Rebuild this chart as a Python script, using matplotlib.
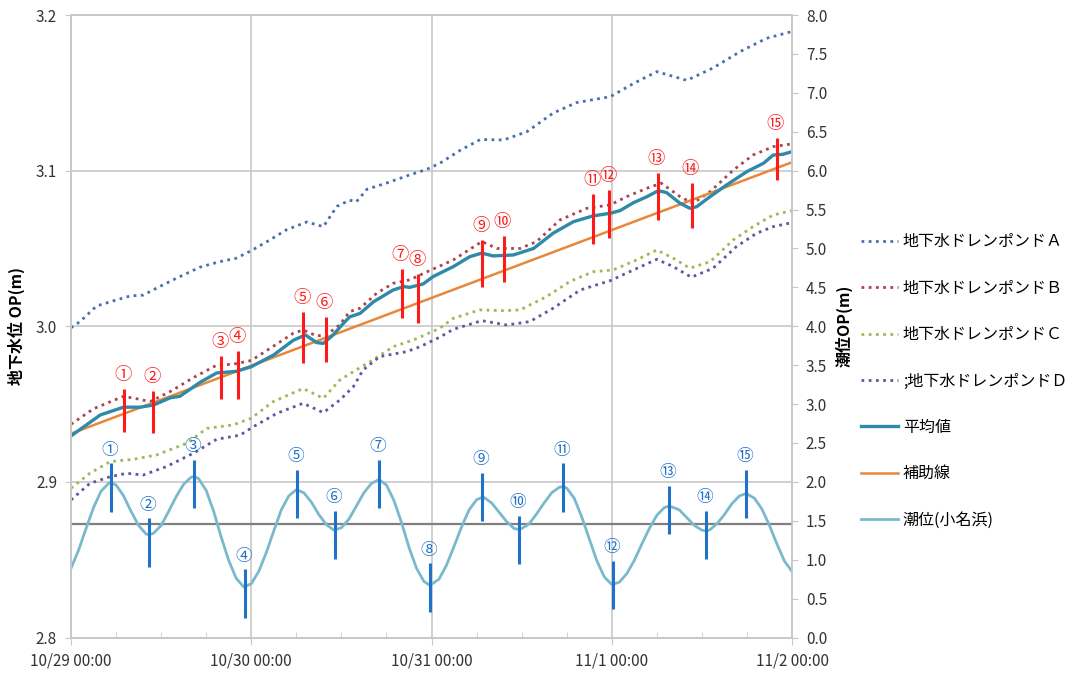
import matplotlib
matplotlib.use('Agg')
import matplotlib.pyplot as plt
import matplotlib.dates as mdates
from matplotlib.ticker import MultipleLocator, FuncFormatter
import numpy as np
import pandas as pd

plt.rcParams['font.family'] = ['Noto Sans CJK JP', 'DejaVu Sans']

# ---------------- data (hours since 10/29 00:00) ----------------
A_t = [0, 1.2, 3.4, 6.1, 7.9, 9.6, 11.8, 14.1, 17.2, 19.8, 22, 24, 26.1, 28.7, 31.4, 33.6,
       35.4, 37.1, 38, 39.4, 42, 44.7, 47.4, 49.1, 51.8, 54.5, 57.6, 60.7, 64.2, 67.3, 71.8,
       74.9, 78, 82, 85.5, 89.1, 92.6, 96]
A_v = [2.999, 3.003, 3.013, 3.017, 3.0195, 3.020, 3.0255, 3.031, 3.038, 3.0415, 3.0437,
       3.0486, 3.0544, 3.062, 3.067, 3.064, 3.077, 3.081, 3.080, 3.088, 3.092, 3.0966,
       3.1009, 3.1047, 3.113, 3.120, 3.1197, 3.125, 3.137, 3.1437, 3.1475, 3.156, 3.1636,
       3.158, 3.166, 3.1765, 3.185, 3.1894]

B_t = [0, 3, 7, 9.2, 10.5, 13.2, 16.3, 19.4, 21.6, 24, 26.9, 29.6, 30.9, 32.7, 34, 35.8,
       37.1, 38.5, 40.7, 42.9, 45.1, 47.4, 50.9, 54.7, 56.7, 59.8, 62, 65.1, 68.7, 71.8,
       74, 76.7, 78.6, 81.1, 82.8, 85.1, 88.2, 90.8, 93.5, 96]
B_v = [2.937, 2.947, 2.955, 2.953, 2.9515, 2.958, 2.967, 2.975, 2.9756, 2.978, 2.987,
       2.9955, 2.9976, 2.9938, 2.9944, 3.001, 3.0094, 3.0116, 3.0212, 3.0276, 3.0298,
       3.035, 3.0426, 3.0544, 3.050, 3.050, 3.0544, 3.0683, 3.0758, 3.078, 3.0833, 3.0887,
       3.0919, 3.0833, 3.079, 3.0865, 3.1004, 3.110, 3.1154, 3.1172]

C_t = [0, 2.5, 5.2, 8.3, 11.4, 15.4, 18.1, 21.6, 24, 26.9, 30.9, 33.6, 35.8, 38, 40.2,
       42.9, 45.6, 49.1, 50.9, 54.4, 57.6, 59.8, 63.3, 66.4, 69.5, 72.2, 75.3, 78, 80.2,
       82.4, 85.1, 88.2, 90.8, 93.5, 96]
C_v = [2.8959, 2.9055, 2.913, 2.9145, 2.9173, 2.9248, 2.9344, 2.9366, 2.9409, 2.9515,
       2.960, 2.9537, 2.9655, 2.972, 2.9783, 2.9869, 2.9912, 2.9987, 3.0051, 3.0105,
       3.010, 3.0105, 3.019, 3.0287, 3.035, 3.0362, 3.0426, 3.049, 3.0437, 3.0373,
       3.0415, 3.0555, 3.064, 3.0715, 3.0743]

D_t = [0, 2.5, 5.2, 7.4, 9.6, 12.7, 16.3, 19.4, 22.5, 24.3, 27.4, 30.9, 33.6, 35.8, 37.6,
       38.9, 41.1, 44.7, 46.5, 49.1, 50.9, 54.7, 58, 61.1, 64.2, 67.8, 71.8, 74.9, 78,
       80.2, 82.6, 85.5, 88.6, 91.3, 93.5, 96]
D_v = [2.8884, 2.899, 2.9033, 2.9055, 2.9044, 2.9098, 2.9184, 2.9274, 2.930, 2.9355,
       2.944, 2.9505, 2.9445, 2.9526, 2.9612, 2.972, 2.9805, 2.9837, 2.9869, 2.993,
       2.998, 3.0036, 3.0008, 3.003, 3.0116, 3.0233, 3.0293, 3.0362, 3.043, 3.0383,
       3.0315, 3.0373, 3.0512, 3.0598, 3.064, 3.0666]

mean_t = [0, 3.9, 7, 9.2, 11, 13.2, 14.5, 17.2, 19.4, 22, 24, 27, 29.6, 31.2, 32.7, 33.6,
          34.9, 36.3, 37.1, 38.5, 40.3, 42.9, 44.3, 45.1, 46.9, 48.2, 50.9, 53.1, 54.7,
          56.2, 58.9, 61.6, 64.2, 66.9, 69.5, 71.8, 73.1, 74.9, 76.7, 78.2, 79.3, 81.1,
          82.4, 83.3, 85.1, 87.3, 90, 92.2, 93.5, 94.8, 96]
mean_v = [2.9295, 2.943, 2.948, 2.948, 2.9494, 2.954, 2.955, 2.964, 2.970, 2.971, 2.974,
          2.9816, 2.991, 2.9944, 2.9895, 2.989, 2.9944, 3.002, 3.006, 3.0083, 3.0158,
          3.0233, 3.0255, 3.025, 3.0272, 3.0319, 3.0383, 3.0447, 3.047, 3.0452, 3.0458,
          3.050, 3.0598, 3.0672, 3.0709, 3.0726, 3.0743, 3.0794, 3.0833, 3.0871, 3.0859,
          3.079, 3.0758, 3.0768, 3.0833, 3.0908, 3.0994, 3.1047, 3.110, 3.1105, 3.1122]

aux_t = [0, 96]
aux_v = [2.931, 3.1054]

tide_t = [0, 1, 2, 3, 4, 5, 5.3, 6, 7, 8, 9, 10, 10.4, 11, 12, 13, 14, 15, 16, 16.4, 17,
          18, 19, 20, 21, 22, 23, 24, 25, 26, 27, 28, 29, 30, 31, 32, 33, 34, 35, 36, 37,
          38, 39, 40, 41, 42, 43, 44, 45, 46, 47, 47.8, 49, 50, 51, 52, 53, 54, 54.7, 55,
          56, 57, 58, 59, 59.6, 60, 61, 62, 63, 64, 65, 65.5, 66, 67, 68, 69, 70, 71, 72,
          73, 74, 75, 76, 77, 78, 79, 79.7, 81, 82, 83, 84, 84.5, 85, 86, 87, 88, 89, 89.9,
          91, 92, 93, 94, 95, 96]
tide_v = [0.89, 1.12, 1.40, 1.67, 1.88, 1.98, 1.99, 1.96, 1.82, 1.62, 1.44, 1.33, 1.32,
          1.34, 1.44, 1.62, 1.81, 1.97, 2.06, 2.07, 2.04, 1.89, 1.62, 1.29, 0.99, 0.76,
          0.65, 0.69, 0.85, 1.09, 1.37, 1.64, 1.82, 1.90, 1.86, 1.74, 1.58, 1.45, 1.38,
          1.41, 1.52, 1.69, 1.86, 1.98, 2.03, 1.96, 1.76, 1.48, 1.16, 0.89, 0.72, 0.67,
          0.75, 0.93, 1.17, 1.42, 1.64, 1.77, 1.80, 1.80, 1.73, 1.61, 1.49, 1.40, 1.39,
          1.40, 1.46, 1.59, 1.73, 1.86, 1.93, 1.94, 1.92, 1.79, 1.55, 1.27, 0.99, 0.78,
          0.68, 0.71, 0.82, 0.99, 1.20, 1.40, 1.57, 1.67, 1.69, 1.64, 1.54, 1.44, 1.38,
          1.37, 1.38, 1.46, 1.58, 1.72, 1.82, 1.85, 1.79, 1.65, 1.44, 1.20, 0.98, 0.85]

msl_level = 1.46

marker_labels = ['①', '②', '③', '④', '⑤', '⑥', '⑦', '⑧', '⑨', '⑩', '⑪', '⑫', '⑬', '⑭', '⑮']

gw_mark_t = [7.06, 10.96, 20.01, 22.28, 30.93, 33.91, 44.03, 46.24, 54.76, 57.65,
             69.54, 71.67, 78.12, 82.64, 93.96]
gw_mark_lo = [2.9319, 2.9312, 2.9531, 2.9531, 2.9762, 2.9772, 3.0051, 3.0023, 3.0255,
              3.0287, 3.0529, 3.0566, 3.0683, 3.0630, 3.0940]
gw_mark_hi = [2.9595, 2.9584, 2.9809, 2.9843, 3.0090, 3.0062, 3.0366, 3.0336, 3.0555,
              3.0580, 3.0848, 3.0876, 3.0987, 3.0923, 3.1208]

td_mark_t = [5.29, 10.39, 16.38, 23.17, 30.13, 35.19, 41.05, 47.80, 54.69, 59.65,
             65.47, 72.21, 79.66, 84.51, 89.88]
td_mark_lo = [1.617, 0.910, 1.660, 0.254, 1.532, 1.009, 1.660, 0.332, 1.497, 0.941,
              1.617, 0.366, 1.330, 1.009, 1.532]
td_mark_hi = [2.239, 1.532, 2.281, 0.877, 2.153, 1.630, 2.281, 0.954, 2.118, 1.562,
              2.239, 0.987, 1.951, 1.630, 2.153]

series_labels = ['地下水ドレンポンドＡ', '地下水ドレンポンドＢ', '地下水ドレンポンドＣ',
                 ';地下水ドレンポンドＤ', '平均値', '補助線', '潮位(小名浜)']

# ---------------- drawing ----------------
start = pd.Timestamp('2011-10-29 00:00')


def T(h):
    return (start + pd.to_timedelta(np.asarray(h, dtype=float), unit='h')).to_pydatetime()


fig = plt.figure(figsize=(10.73, 6.75), dpi=100)
ax = fig.add_axes([71 / 1073, 1 - 637.5 / 675, (792 - 71) / 1073, (637.5 - 15) / 675])
ax2 = ax.twinx()

dot = (0, (1, 1.6))
lA, = ax.plot(T(A_t), A_v, color='#4a6fae', lw=2.0, ls=dot, label=series_labels[0])
lB, = ax.plot(T(B_t), B_v, color='#a8454f', lw=2.0, ls=dot, label=series_labels[1])
lC, = ax.plot(T(C_t), C_v, color='#9bbb59', lw=2.0, ls=dot, label=series_labels[2])
lD, = ax.plot(T(D_t), D_v, color='#6455a0', lw=2.0, ls=dot, label=series_labels[3])
lAux, = ax.plot(T(aux_t), aux_v, color='#e8873a', lw=1.8, label=series_labels[5])
lM, = ax.plot(T(mean_t), mean_v, color='#2e8aa8', lw=2.4, label=series_labels[4])

ax.vlines(T(gw_mark_t), gw_mark_lo, gw_mark_hi, color='#ff1a1a', lw=2.2, zorder=5)
for lab, t, hi in zip(marker_labels, gw_mark_t, gw_mark_hi):
    ax.annotate(lab, xy=(T([t])[0], hi), xytext=(-1, 10), textcoords='offset points',
                ha='center', va='center', color='#ff1a1a', fontsize=12.5)

ax2.axhline(msl_level, color='#7f7f7f', lw=1.6, zorder=1)
lT, = ax2.plot(T(tide_t), tide_v, color='#7ab9cd', lw=2.0, label=series_labels[6])
ax2.vlines(T(td_mark_t), td_mark_lo, td_mark_hi, color='#1f72c8', lw=2.2, zorder=5)
for lab, t, hi in zip(marker_labels, td_mark_t, td_mark_hi):
    ax2.annotate(lab, xy=(T([t])[0], hi), xytext=(-1, 9.5), textcoords='offset points',
                 ha='center', va='center', color='#1f72c8', fontsize=12)

# axes setup
ax.set_xlim(T([0])[0], T([96])[0])
ax.set_ylim(2.8, 3.2)
ax2.set_ylim(0, 8)

ax.xaxis.set_major_locator(mdates.DayLocator())
ax.xaxis.set_minor_locator(mdates.HourLocator(byhour=[6, 12, 18]))
ax.xaxis.set_major_formatter(FuncFormatter(
    lambda x, p: (lambda d: f"{d.month}/{d.day} {d:%H:%M}")(mdates.num2date(x))))
ax.yaxis.set_major_locator(MultipleLocator(0.1))
ax.yaxis.set_major_formatter(FuncFormatter(lambda v, p: f"{v:.1f}"))
ax2.yaxis.set_major_locator(MultipleLocator(0.5))
ax2.yaxis.set_major_formatter(FuncFormatter(lambda v, p: f"{v:.1f}"))

ax.grid(True, which='major', color='#c8c8c8', lw=1.2)
ax.set_axisbelow(True)
for a in (ax, ax2):
    for s in a.spines.values():
        s.set_color('#c8c8c8')
        s.set_linewidth(1.2)

ax.tick_params(axis='x', which='major', length=5, color='#c8c8c8', labelsize=11,
               labelcolor='#333333', pad=6)
ax.tick_params(axis='x', which='minor', direction='in', length=4, color='#c8c8c8')
ax.tick_params(axis='y', which='major', length=4, color='#c8c8c8', labelsize=11,
               labelcolor='#333333', pad=6)
ax2.tick_params(axis='y', which='major', length=4, color='#c8c8c8', labelsize=11,
                labelcolor='#333333', pad=6)

ax.set_ylabel('地下水位 OP(m)', fontsize=11.5, fontweight='bold', labelpad=8)
ax2.set_ylabel('潮位OP(m)', fontsize=11.5, fontweight='bold', labelpad=6)

handles = [lA, lB, lC, lD, lM, lAux, lT]
fig.legend(handles, series_labels, loc='upper left',
           bbox_to_anchor=(855 / 1073, 1 - 227 / 675), frameon=False, fontsize=11.5,
           handlelength=2.3, handletextpad=0.3, labelspacing=1.84, borderaxespad=0)

fig.savefig('out.png', dpi=100)
